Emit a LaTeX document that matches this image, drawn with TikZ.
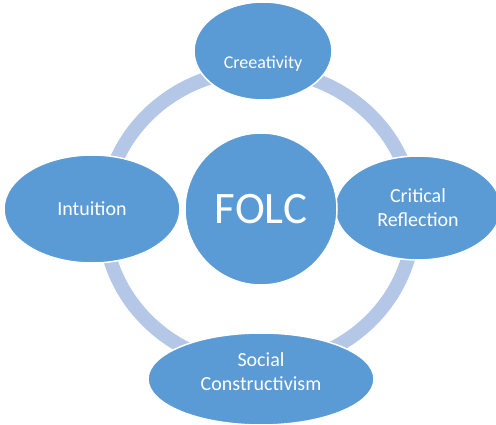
\documentclass[tikz,border=0pt]{standalone}
\usepackage{fontspec}
\setmainfont{Carlito}
\usetikzlibrary{shapes.geometric}
\definecolor{folcblue}{HTML}{5B9BD5}
\definecolor{ringblue}{HTML}{B4C7E7}
\tikzset{
  blob/.style={ellipse,fill=folcblue,draw=white,line width=1.5pt,inner sep=0pt,
    text=white,align=center,font=\fontsize{20}{24}\selectfont},
  blobtext/.style={text=white,align=center,font=\fontsize{20}{24}\selectfont}
}
\begin{document}
\begin{tikzpicture}[x=1pt,y=-1pt]
        \useasboundingbox (0,0) rectangle (496,425);
        \coordinate (R) at (259,218);
        \coordinate (T) at (263,51);
        \coordinate (L) at (92,209);
        \coordinate (Rt) at (418,208);
        \coordinate (B) at (261,379);
        \coordinate (O) at (261,209);
        \draw[ringblue,line width=14pt] (R) ellipse [x radius=155pt,y radius=148pt];
        \node (cre) at (T) [blob,minimum width=138pt,minimum height=98pt,
            label={[blobtext,font=\fontsize{18}{22}\selectfont,yshift=-13pt]center:Creeativity}] {};
        \node (int) at (L) [blob,minimum width=176pt,minimum height=108pt] {Intuition};
        \node (cri) at (Rt) [blob,minimum width=166pt,minimum height=104pt] {Critical\\Reflection};
        \node (soc) at (B) [blob,minimum width=226pt,minimum height=92pt,
            label={[blobtext,yshift=7pt]center:Social\\Constructivism}] {};
        \node (folc) at (O) [blob,circle,minimum size=152pt,font=\fontsize{45}{50}\selectfont] {FOLC};
    \end{tikzpicture}
\end{document}
